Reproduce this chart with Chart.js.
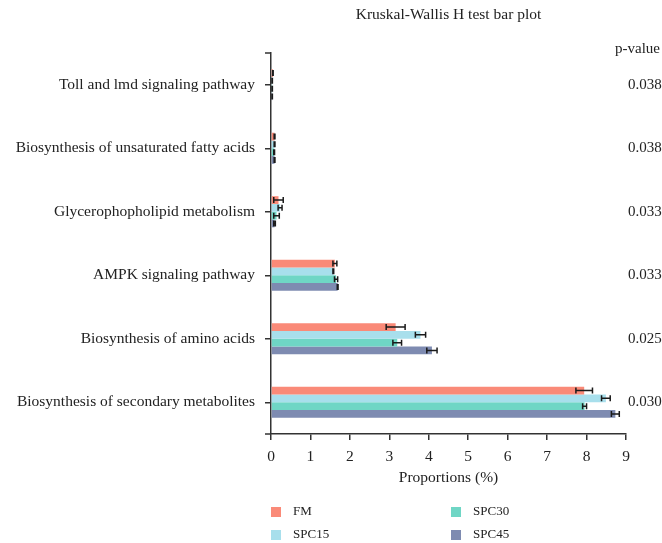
<!DOCTYPE html>
<html>
<head>
<meta charset="utf-8">
<script src="https://cdn.jsdelivr.net/npm/chart.js@4.4.1/dist/chart.umd.min.js"></script>
<style>
html,body{margin:0;padding:0;background:#fff;}
#wrap{width:662px;height:543px;position:relative;}
</style>
</head>
<body>
<div id="wrap"><canvas id="c" width="662" height="543"></canvas></div>
<script>
const categories = [
  "Toll and lmd signaling pathway",
  "Biosynthesis of unsaturated fatty acids",
  "Glycerophopholipid metabolism",
  "AMPK signaling pathway",
  "Biosynthesis of amino acids",
  "Biosynthesis of secondary metabolites"
];
const pValues = ["0.038", "0.038", "0.033", "0.033", "0.025", "0.030"];
const seriesNames = ["FM", "SPC15", "SPC30", "SPC45"];
const seriesColors = ["#FA8A78", "#A8DFEC", "#6FD6C5", "#7E8BB1"];
const valuesFM    = [0.05, 0.09, 0.19, 1.62, 3.16, 7.94];
const valuesSPC15 = [0.03, 0.09, 0.23, 1.58, 3.79, 8.49];
const valuesSPC30 = [0.03, 0.08, 0.14, 1.65, 3.20, 7.95];
const valuesSPC45 = [0.03, 0.09, 0.09, 1.69, 4.08, 8.73];
const errFM    = [0.005, 0.01, 0.12, 0.05, 0.24, 0.21];
const errSPC15 = [0.005, 0.01, 0.05, 0.01, 0.13, 0.11];
const errSPC30 = [0.005, 0.01, 0.07, 0.04, 0.11, 0.05];
const errSPC45 = [0.005, 0.01, 0.02, 0.01, 0.13, 0.10];
const xTicks = [0,1,2,3,4,5,6,7,8,9];

const allValues = [valuesFM, valuesSPC15, valuesSPC30, valuesSPC45];
const allErrors = [errFM, errSPC15, errSPC30, errSPC45];
const FONT = "'Liberation Serif', 'DejaVu Serif', serif";
const TXT = "#222";

const errorBars = {
  id: 'errorBars',
  afterDatasetsDraw(chart) {
    const ctx = chart.ctx;
    const xs = chart.scales.x;
    ctx.save();
    ctx.strokeStyle = "#1a1a1a";
    ctx.lineWidth = 1.5;
    chart.data.datasets.forEach((ds, di) => {
      const meta = chart.getDatasetMeta(di);
      meta.data.forEach((bar, i) => {
        const v = ds.data[i], e = ds.errors[i];
        const x1 = xs.getPixelForValue(v - e), x2 = xs.getPixelForValue(v + e);
        const y = bar.y, h = 3;
        ctx.beginPath();
        ctx.moveTo(x1, y); ctx.lineTo(x2, y);
        ctx.moveTo(x1, y - h); ctx.lineTo(x1, y + h);
        ctx.moveTo(x2, y - h); ctx.lineTo(x2, y + h);
        ctx.stroke();
      });
    });
    ctx.restore();
  }
};

const decorations = {
  id: 'decorations',
  afterDraw(chart) {
    const ctx = chart.ctx;
    const ca = chart.chartArea;
    const ys = chart.scales.y;
    ctx.save();
    // end ticks on the y axis
    ctx.strokeStyle = '#333';
    ctx.lineWidth = 1.5;
    ctx.beginPath();
    ctx.moveTo(ca.left - 6, ca.top); ctx.lineTo(ca.left, ca.top);
    ctx.moveTo(ca.left - 6, ca.bottom); ctx.lineTo(ca.left, ca.bottom);
    ctx.stroke();
    ctx.fillStyle = TXT;
    // title
    ctx.font = "15.5px " + FONT;
    ctx.textAlign = "center";
    ctx.textBaseline = "middle";
    ctx.fillText("Kruskal-Wallis H test bar plot", (ca.left + ca.right) / 2, 15);
    // p-values
    ctx.textAlign = "left";
    ctx.font = "15px " + FONT;
    ctx.fillText("p-value", 615, 49);
    categories.forEach((c, i) => {
      ctx.fillText(pValues[i], 628, ys.getPixelForValue(i));
    });
    // legend
    ctx.font = "13px " + FONT;
    const pos = [[271, 512], [271, 535], [451, 512], [451, 535]];
    seriesNames.forEach((n, i) => {
      const [x, y] = pos[i];
      ctx.fillStyle = seriesColors[i];
      ctx.fillRect(x, y - 5, 10, 10);
      ctx.fillStyle = TXT;
      ctx.fillText(n, x + 22, y);
    });
    ctx.restore();
  }
};

new Chart(document.getElementById('c'), {
  type: 'bar',
  data: {
    labels: categories,
    datasets: seriesNames.map((n, i) => ({
      label: n,
      data: allValues[i],
      errors: allErrors[i],
      backgroundColor: seriesColors[i],
      borderWidth: 0,
      categoryPercentage: 0.49,
      barPercentage: 1.0
    }))
  },
  options: {
    indexAxis: 'y',
    responsive: false,
    animation: false,
    layout: { padding: { top: 53, right: 36, bottom: 56, left: 0 } },
    plugins: { legend: { display: false }, title: { display: false }, tooltip: { enabled: false } },
    scales: {
      x: {
        type: 'linear',
        min: 0, max: 9,
        afterBuildTicks(scale) { scale.ticks = xTicks.map(v => ({ value: v })); },
        afterFit(scale) { scale.height = 53; },
        border: { display: true, color: '#333', width: 1.5 },
        grid: { display: true, drawOnChartArea: false, drawTicks: true, tickLength: 6, color: '#333', lineWidth: 1.5 },
        ticks: { color: TXT, font: { family: FONT, size: 15.5 }, padding: 8, maxRotation: 0 },
        title: { display: true, text: 'Proportions (%)', color: TXT, font: { family: FONT, size: 15.5 }, padding: { top: 2, bottom: 0 } }
      },
      y: {
        type: 'category',
        afterFit(scale) { scale.width = 271; },
        border: { display: true, color: '#333', width: 1.5 },
        grid: { display: true, offset: false, drawOnChartArea: false, drawTicks: true, tickLength: 6, color: '#333', lineWidth: 1.5 },
        ticks: { color: TXT, font: { family: FONT, size: 15.5 }, padding: 10, autoSkip: false }
      }
    }
  },
  plugins: [errorBars, decorations]
});
</script>
</body>
</html>
